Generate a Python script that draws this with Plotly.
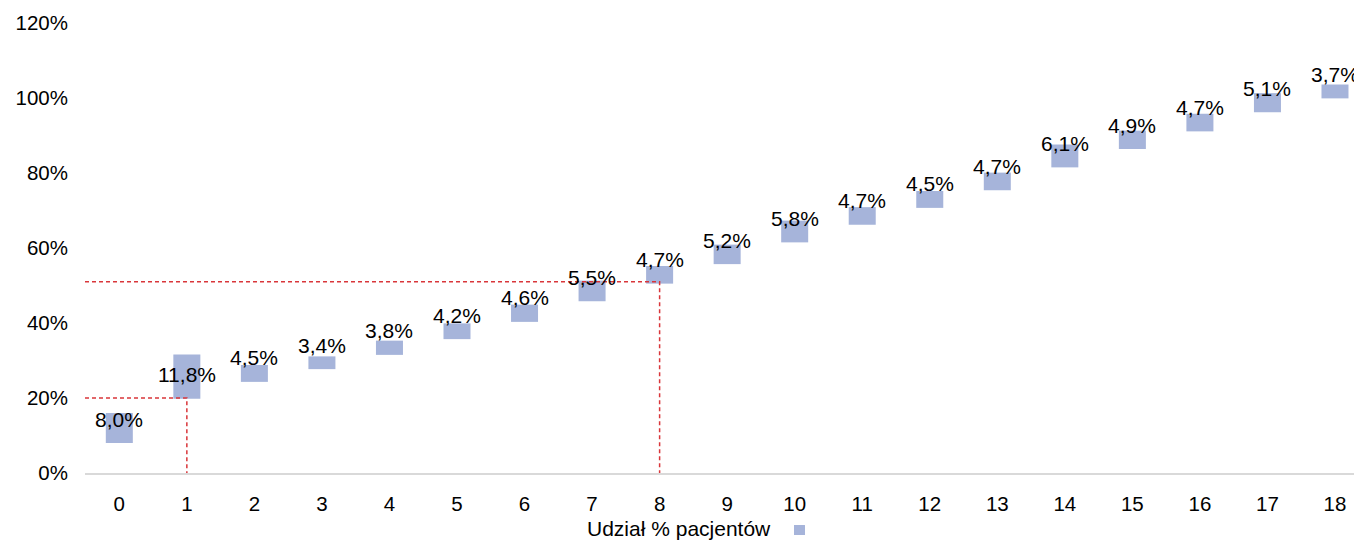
import numpy as np
import plotly.graph_objects as go

categories = list(range(19))
shares = [8.0, 11.8, 4.5, 3.4, 3.8, 4.2, 4.6, 5.5, 4.7, 5.2, 5.8, 4.7, 4.5, 4.7, 6.1, 4.9, 4.7, 5.1, 3.7]
series_name = "Udział % pacjentów"
ref_x = [1, 8]
ref_y = [20, 51]
y_ticks = [0, 20, 40, 60, 80, 100, 120]

cum = np.cumsum(shares)

FONT = "Liberation Sans, Arial, sans-serif"
BAR_COLOR = "#A6B4DA"
RED = "#D9363A"
FS = 20.5
XMIN, XMAX = -0.508, 18.40

fig = go.Figure()
fig.add_trace(go.Bar(
    x=categories, y=shares, base=cum, width=0.4,
    marker=dict(color=BAR_COLOR, line=dict(width=0)),
    name=series_name, showlegend=False, hoverinfo="skip",
))

for rx, ry in zip(ref_x, ref_y):
    fig.add_trace(go.Scatter(
        x=[XMIN, rx, rx], y=[ry, ry, -1], mode="lines",
        line=dict(color=RED, width=1.5, dash="4px,3px"),
        showlegend=False, hoverinfo="skip", cliponaxis=False,
    ))

for c, cv, v in zip(categories, cum, shares):
    fig.add_annotation(
        x=c, y=cv, text=f"{v:.1f}%".replace(".", ","),
        showarrow=False, yshift=24, yanchor="middle", xanchor="center",
        font=dict(family=FONT, size=21, color="#000000"),
    )

# legend replica: text followed by the series swatch
fig.add_annotation(
    xref="paper", yref="paper", x=0.539, y=-0.1225, xanchor="right", yanchor="middle",
    text=series_name, showarrow=False,
    font=dict(family=FONT, size=21, color="#000000"),
)
fig.add_shape(
    type="rect", xref="paper", yref="paper",
    x0=0.5552, x1=0.5638, y0=-0.1378, y1=-0.1156,
    fillcolor=BAR_COLOR, line=dict(width=0),
)

fig.update_layout(
    width=1354, height=532,
    margin=dict(l=77, r=0, t=15, b=67),
    plot_bgcolor="white", paper_bgcolor="white",
    font=dict(family=FONT, size=FS, color="#000000"),
    showlegend=False,
)
fig.update_xaxes(
    range=[XMIN, XMAX], tickvals=categories, ticktext=[str(c) for c in categories],
    showline=True, linecolor="#D9D9D9", linewidth=1.5, automargin=False,
    showgrid=False, zeroline=False, ticks="", ticklabelstandoff=12,
    tickfont=dict(family=FONT, size=FS, color="#000000"),
)
fig.update_yaxes(
    range=[0, 120], tickvals=y_ticks, ticktext=[f"{t}%" for t in y_ticks],
    showline=False, showgrid=False, zeroline=False, ticks="", automargin=False,
    ticklabelstandoff=16,
    tickfont=dict(family=FONT, size=FS, color="#000000"),
)

fig.write_html("out.html")
